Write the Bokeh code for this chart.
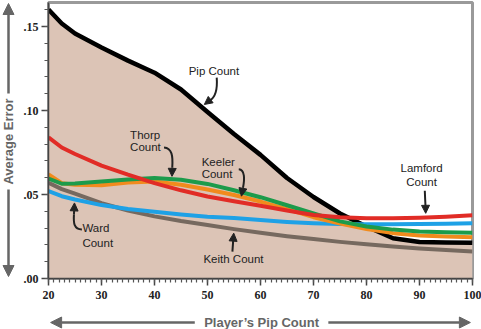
from bokeh.plotting import figure
from bokeh.layouts import row, column
from bokeh.models import (FixedTicker, CustomJSTickFormatter, Range1d, Label,
                          Arrow, NormalHead)
from bokeh.embed import file_html
from bokeh.resources import INLINE

# ---- data ----
pips = [20, 22.5, 25, 30, 35, 40, 45, 50, 55, 60, 65, 70, 75, 80, 85, 90, 95, 100]
pip_count = [.1601, .1518, .1458, .1375, .1297, .1225, .1125, .0991, .0860, .0736,
             .0598, .0485, .0387, .0310, .0240, .0217, .0214, .0213]
lamford = [.084, .078, .0741, .0672, .0618, .0568, .0525, .0488, .0460, .0433, .0405,
           .0378, .0364, .0358, .0359, .0362, .0368, .0376]
thorp = [.0595, .0564, .0566, .0577, .0589, .0598, .0588, .0563, .0525, .0484, .0436,
         .0388, .0340, .0310, .0291, .0280, .0275, .0272]
keeler = [.062, .0567, .0558, .0555, .0571, .0577, .0558, .0530, .0497, .0458, .0413,
          .0365, .0327, .0295, .0270, .0256, .0250, .0246]
ward = [.052, .049, .047, .0437, .0414, .0397, .0381, .0368, .0360, .0348, .0337,
        .0329, .0324, .0323, .0323, .0324, .0326, .0329]
keith = [.057, .0532, .0505, .0448, .0405, .0370, .0342, .0318, .0294, .0272, .0252,
         .0235, .0218, .0204, .0191, .0179, .0169, .0161]

y_ticks = [0.0, 0.05, 0.10, 0.15]
x_ticks = [20, 30, 40, 50, 60, 70, 80, 90, 100]

GR = "#666666"
TXT = "#222222"

def blank(w, h, **kw):
    f = figure(width=w, height=h, output_backend="svg", toolbar_location=None,
               x_axis_location=None, y_axis_location=None, **kw)
    f.grid.visible = False
    f.outline_line_color = None
    f.background_fill_color = "white"
    f.border_fill_color = "white"
    return f

def big_arrow(f, xs, ys, xe, ye):
    f.add_layout(Arrow(x_start=xs, y_start=ys, x_end=xe, y_end=ye,
                       line_color=GR, line_width=2.5,
                       end=NormalHead(size=11, fill_color=GR, line_color=GR)))

# ---- main figure ----
p = figure(width=461, height=309, output_backend="svg", toolbar_location=None,
           x_range=Range1d(20, 100), y_range=Range1d(0, 0.1643),
           min_border_left=26, min_border_right=9, min_border_top=2,
           min_border_bottom=31)
p.background_fill_color = "white"
p.border_fill_color = "white"
p.grid.visible = False
p.outline_line_color = "#9a9a9a"
p.outline_line_width = 3

AX = "#444444"
for ax in (p.xaxis[0], p.yaxis[0]):
    ax.axis_line_color = AX
    ax.axis_line_width = 1.5
    ax.major_tick_line_color = AX
    ax.minor_tick_line_color = "#555555"
    ax.major_tick_line_width = 1.5
    ax.minor_tick_line_width = 1.2
    ax.major_tick_in = 0
    ax.minor_tick_in = 0
    ax.major_label_text_font = "Liberation Sans Narrow"
    ax.major_label_text_font_style = "bold"
    ax.major_label_text_font_size = "12px"
    ax.major_label_text_color = TXT

p.xaxis.ticker = FixedTicker(ticks=x_ticks, minor_ticks=list(range(20, 101)))
p.xaxis.major_tick_out = 7
p.xaxis.minor_tick_out = 4
p.xaxis.major_label_standoff = 5

p.yaxis.ticker = FixedTicker(ticks=y_ticks,
                             minor_ticks=[i / 100 for i in range(0, 17)])
p.yaxis.major_tick_out = 7
p.yaxis.minor_tick_out = 4
p.yaxis.major_label_standoff = 3
p.yaxis.formatter = CustomJSTickFormatter(
    code="return tick.toFixed(2).replace(/^0/, '');")

# ---- area and lines ----
p.varea(x=pips, y1=[0] * len(pips), y2=pip_count, fill_color="#dcc4b6")
p.line(pips, pip_count, line_color="black", line_width=4.5, line_join="round")
p.line(pips, keith, line_color="#76695f", line_width=4, line_join="round")
p.line(pips, ward, line_color="#1ea1e6", line_width=4, line_join="round")
p.line(pips, keeler, line_color="#f18b1d", line_width=4, line_join="round")
p.line(pips, thorp, line_color="#1c9b4b", line_width=4, line_join="round")
p.line(pips, lamford, line_color="#e12c26", line_width=4, line_join="round")

# ---- annotation labels ----
def lab(x, y, t, align="left"):
    p.add_layout(Label(x=x, y=y, text=t, text_font="Liberation Sans",
                       text_font_size="11.5px", text_color=TXT,
                       text_align=align, text_baseline="middle"))

lab(46.45, .1238, "Pip Count")
lab(35.4, .0857, "Thorp")
lab(35.4, .0780, "Count")
lab(48.9, .0696, "Keeler")
lab(48.9, .0625, "Count")
lab(90.4, .0658, "Lamford", "center")
lab(90.4, .0574, "Count", "center")
lab(26.4, .0298, "Ward")
lab(26.4, .0214, "Count")
lab(54.9, .0119, "Keith Count", "center")

def pointer(x0, y0, cx0, cy0, cx1, cy1, x1, y1, hx, hy):
    p.bezier(x0=[x0], y0=[y0], cx0=[cx0], cy0=[cy0], cx1=[cx1], cy1=[cy1],
             x1=[x1], y1=[y1], line_color=TXT, line_width=2)
    p.add_layout(Arrow(x_start=x1, y_start=y1, x_end=hx, y_end=hy,
                       line_color=TXT, line_width=2,
                       end=NormalHead(size=8, fill_color=TXT, line_color=TXT)))

pointer(51.74, .1196, 51.95, .1105, 51.3, .1075, 50.4, .1060, 49.4, .1036)
pointer(41.8, .0780, 43.3, .0776, 43.5, .0730, 43.35, .0660, 43.3, .0608)
pointer(55.9, .0650, 57.1, .0647, 57.0, .0590, 56.7, .0540, 56.4, .0490)
pointer(91.0, .0522, 91.05, .0480, 91.1, .0450, 91.15, .0420, 91.17, .0388)
pointer(26.3, .0292, 24.8, .0292, 24.7, .0330, 24.8, .0380, 24.9, .0450)
pointer(54.7, .0160, 54.75, .0180, 54.8, .0200, 54.85, .0230, 54.95, .0270)

# ---- left strip: vertical axis title with arrows ----
left = blank(20, 329, x_range=Range1d(0, 20), y_range=Range1d(0, 329),
             min_border=0)
left.add_layout(Label(x=8, y=188, text="Average Error", angle=90,
                      angle_units="deg", text_font="Liberation Sans",
                      text_font_style="bold", text_font_size="13px",
                      text_color=GR, text_align="center", text_baseline="middle"))
big_arrow(left, 8, 236, 8, 326)
big_arrow(left, 8, 140, 8, 53)

# ---- bottom strip: horizontal axis title with arrows (same x scale) ----
bottom = blank(461, 20, x_range=Range1d(20, 100), y_range=Range1d(0, 20),
               min_border_left=26, min_border_right=9, min_border_top=0,
               min_border_bottom=0)
bottom.add_layout(Label(x=60.2, y=7, text="Player\u2019s Pip Count",
                        text_font="Liberation Sans", text_font_style="bold",
                        text_font_size="13px", text_color=GR,
                        text_align="center", text_baseline="middle"))
big_arrow(bottom, 47.6, 7, 20.4, 7)
big_arrow(bottom, 72.8, 7, 99.6, 7)

layout = row(left, column(p, bottom))
open("out.html", "w").write(file_html(layout, INLINE))
